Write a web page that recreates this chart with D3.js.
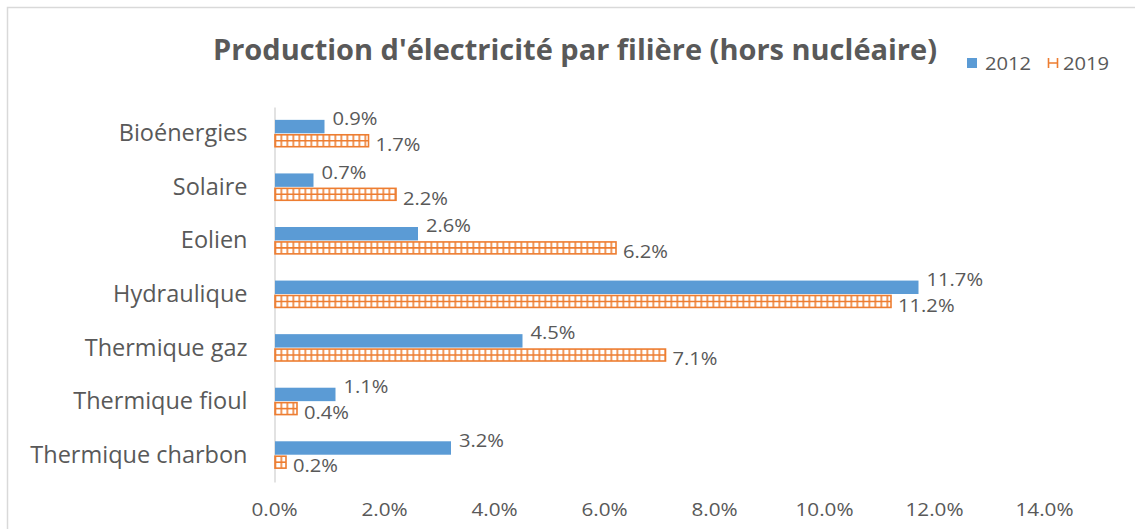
<!DOCTYPE html>
<html>
<head>
<meta charset="utf-8">
<script src="https://cdn.jsdelivr.net/npm/d3@7"></script>
<style>
  body { margin: 0; background: #fff; }
  svg text { font-family: "Open Sans", sans-serif; fill: #595959; }
</style>
</head>
<body>
<svg width="1135" height="529"></svg>
<script>
// chart data
var categories = ["Bioénergies", "Solaire", "Eolien", "Hydraulique", "Thermique gaz", "Thermique fioul", "Thermique charbon"];
var seriesNames = ["2012", "2019"];
var values2012 = [0.9, 0.7, 2.6, 11.7, 4.5, 1.1, 3.2];
var values2019 = [1.7, 2.2, 6.2, 11.2, 7.1, 0.4, 0.2];
var xTicks = [0, 2, 4, 6, 8, 10, 12, 14];
var title = "Production d'électricité par filière (hors nucléaire)";

var blue = "#5b9bd5", orange = "#ed7d31";
var font = "'Open Sans', sans-serif";

var svg = d3.select("svg");

// the original text is a bit wider than Open Sans, so widen it slightly
function widen(sel, k) {
    sel.each(function () {
        var w = this.getComputedTextLength();
        d3.select(this).attr("textLength", w * k).attr("lengthAdjust", "spacingAndGlyphs");
    });
}

// outer chart border
svg.append("rect")
    .attr("x", 7.5).attr("y", 7.5)
    .attr("width", 1140).attr("height", 540)
    .attr("fill", "none").attr("stroke", "#d9d9d9").attr("stroke-width", 1.5);

// vertical stripes for the 2019 pattern
var defs = svg.append("defs");
var pat = defs.append("pattern")
    .attr("id", "grid19")
    .attr("patternUnits", "userSpaceOnUse")
    .attr("x", 274.5).attr("y", 0)
    .attr("width", 6).attr("height", 10);
pat.append("rect").attr("width", 6).attr("height", 10).attr("fill", "#fff");
pat.append("rect").attr("x", 0).attr("width", 1.6).attr("height", 10).attr("fill", orange);

var x = d3.scaleLinear().domain([0, 14]).range([274, 1044]);
var y = d3.scaleBand().domain(categories).range([107, 482])
    .paddingInner(0.48).paddingOuter(0.24);
var y1 = d3.scaleBand().domain(seriesNames).range([0, y.bandwidth()]);

// title
svg.append("text")
    .attr("x", 575).attr("y", 60)
    .attr("text-anchor", "middle")
    .style("font-size", "28px").style("font-weight", "bold")
    .attr("textLength", 724).attr("lengthAdjust", "spacingAndGlyphs")
    .text(title);

// legend
var legend = svg.append("g");
legend.append("rect").attr("x", 967).attr("y", 58).attr("width", 10).attr("height", 10).attr("fill", blue);
legend.append("text").attr("x", 985).attr("y", 70).style("font-size", "18px").text(seriesNames[0]);
legend.append("path")
    .attr("d", "M1048.5,58V68M1057.5,58V68M1048.5,63H1057.5")
    .attr("stroke", orange).attr("stroke-width", 1.6).attr("fill", "none");
legend.append("text").attr("x", 1063).attr("y", 70).style("font-size", "18px").text(seriesNames[1]);
widen(legend.selectAll("text"), 1.12);

// x axis labels
var xAxis = svg.append("g")
    .attr("transform", "translate(0,482)")
    .call(d3.axisBottom(x).tickValues(xTicks).tickSize(0).tickFormat(d => d.toFixed(1) + "%"));
xAxis.select(".domain").remove();
xAxis.selectAll("text")
    .attr("y", 21)
    .style("font-size", "18px")
    .style("font-family", font)
    .attr("fill", "#595959");
widen(xAxis.selectAll("text"), 1.15);

// y axis
var yAxis = svg.append("g")
    .attr("transform", "translate(274.5,0)")
    .call(d3.axisLeft(y).tickSize(0).tickPadding(27));
yAxis.select(".domain").attr("stroke", "#d9d9d9").attr("stroke-width", 1.5);
yAxis.selectAll("text")
    .style("font-size", "23.5px")
    .style("font-family", font)
    .attr("fill", "#595959");

var rows = categories.map((c, i) => ({ cat: c, v12: values2012[i], v19: values2019[i] }));
var bh = y1.bandwidth();

// 2012 bars
svg.append("g").selectAll("rect")
    .data(rows).enter().append("rect")
    .attr("x", x(0) + 1)
    .attr("y", d => y(d.cat) + y1("2012"))
    .attr("width", d => x(d.v12) - x(0))
    .attr("height", bh - 0.5)
    .attr("fill", blue);

// 2019 bars
var g19 = svg.append("g");
g19.selectAll("rect")
    .data(rows).enter().append("rect")
    .attr("x", x(0) + 1)
    .attr("y", d => y(d.cat) + y1("2019") + 1)
    .attr("width", d => x(d.v19) - x(0))
    .attr("height", bh - 2)
    .attr("fill", "url(#grid19)")
    .attr("stroke", orange).attr("stroke-width", 1.6);
g19.selectAll("line")
    .data(rows).enter().append("line")
    .attr("x1", x(0) + 1)
    .attr("x2", d => x(d.v19) + 1)
    .attr("y1", d => y(d.cat) + y1("2019") + bh / 2)
    .attr("y2", d => y(d.cat) + y1("2019") + bh / 2)
    .attr("stroke", orange).attr("stroke-width", 1.6);

// data labels
var fmt = v => v.toFixed(1) + "%";
var lab12 = svg.append("g").selectAll("text")
    .data(rows).enter().append("text")
    .attr("x", d => x(d.v12) + 9)
    .attr("y", d => y(d.cat) + y1("2012") + bh / 2 - 8)
    .attr("dy", "0.35em")
    .style("font-size", "18px")
    .text(d => fmt(d.v12));
var lab19 = svg.append("g").selectAll("text")
    .data(rows).enter().append("text")
    .attr("x", d => x(d.v19) + 8)
    .attr("y", d => y(d.cat) + y1("2019") + bh / 2 + 4)
    .attr("dy", "0.35em")
    .style("font-size", "18px")
    .text(d => fmt(d.v19));
widen(lab12, 1.12);
widen(lab19, 1.12);
</script>
</body>
</html>
